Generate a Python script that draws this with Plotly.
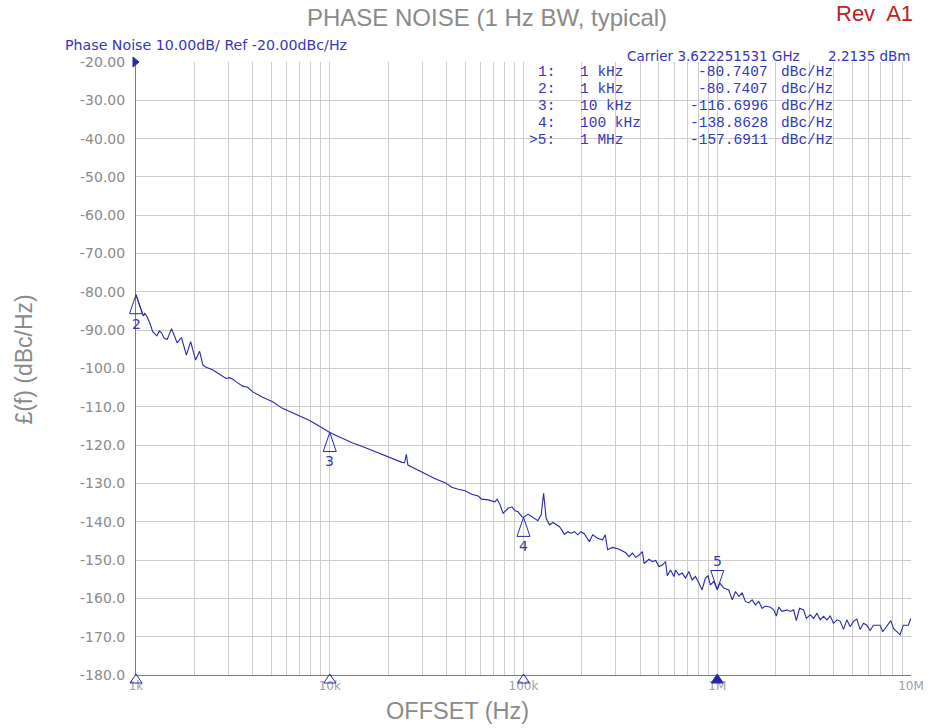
import math
import plotly.graph_objects as go

# ---------------- data ----------------
freq_hz = [
    1000, 1070, 1090, 1110, 1140, 1180, 1220, 1280, 1320, 1355, 1400, 1450, 1525, 1585, 1630,
    1715, 1820, 1915, 1970, 2030, 2130, 2215, 2305, 2495, 2700, 2920, 3040, 3160, 3290, 3555,
    3775, 4000, 4505, 5070, 5705, 6690, 7825, 8805,
    10000, 11160, 13060, 15300, 17900, 20960, 23580, 24340, 24840, 25320, 27630, 31100, 34990,
    39390, 42590, 46090, 49900, 53950, 58400, 60720, 65720, 71140, 73100, 75470, 78470, 83240,
    87300, 90120, 93710, 98240,
    100000, 105500, 111900, 118700, 123400, 127000, 130900, 136300, 141800, 153500, 162800,
    169300, 176000, 183300, 190500, 198100, 206200, 218800, 227500, 241300, 256000, 264300,
    271600, 288200, 311900, 337200, 351000, 365000, 379500, 395200, 410900, 419300, 444600,
    462400, 480800, 500500, 520400, 541100, 552100, 574100, 597700, 609100, 634100, 659300,
    685500, 713500, 742000, 771500, 803200, 835100, 868400, 896500, 921100, 959100,
    1000000, 1031000, 1081000, 1147000, 1195000, 1242000, 1292000, 1345000, 1398000, 1454000,
    1514000, 1574000, 1637000, 1704000, 1772000, 1881000, 1956000, 2019000, 2075000, 2160000,
    2293000, 2384000, 2479000, 2559000, 2661000, 2791000, 2882000, 3021000, 3141000, 3271000,
    3401000, 3536000, 3682000, 3829000, 3982000, 4146000, 4311000, 4483000, 4667000, 4853000,
    5047000, 5253000, 5463000, 5681000, 5916000, 6152000, 6397000, 6927000, 7151000, 7497000,
    7861000, 8108000, 8441000, 8778000, 9129000, 9685000, 10000000,
]
noise_dbc = [
    -80.74, -85.6, -86.3, -85.6, -86.5, -88.2, -90.4, -91.5, -90.2, -90.7, -92.2, -92.4, -89.6, -91.7, -93.3,
    -91.9, -96.5, -93.0, -95.6, -97.8, -95.5, -99.1, -99.7, -100.4, -101.5, -102.6, -102.4, -102.8, -103.5, -104.6,
    -104.9, -106.1, -107.5, -108.7, -110.4, -111.9, -113.5, -115.0,
    -116.7, -117.8, -119.4, -120.7, -122.1, -123.4, -124.5, -124.6, -122.4, -125.2, -126.2, -127.5, -128.8,
    -129.8, -131.0, -131.5, -131.9, -132.8, -133.3, -134.1, -134.3, -134.8, -134.1, -135.4, -137.8, -136.5,
    -136.1, -137.1, -137.4, -138.7,
    -138.86, -138.0, -138.8, -139.7, -138.2, -132.6, -139.1, -140.8, -140.2, -141.3, -143.3,
    -142.6, -143.0, -142.6, -143.4, -142.6, -143.2, -145.2, -143.4, -144.3, -144.7, -143.4,
    -147.3, -146.7, -147.2, -148.1, -149.1, -148.2, -149.3, -148.7, -147.8, -150.9, -149.8,
    -150.4, -150.1, -151.7, -151.3, -150.4, -154.1, -152.6, -154.3, -152.6, -153.9, -153.4,
    -154.7, -153.0, -155.2, -154.3, -155.9, -157.8, -154.7, -154.1, -156.5, -155.6,
    -157.69, -156.0, -157.3, -157.8, -160.4, -158.2, -159.5, -158.6, -160.8, -161.2,
    -160.4, -161.7, -160.8, -162.6, -162.0, -162.3, -163.0, -164.6, -162.3, -163.4,
    -163.0, -163.4, -163.0, -165.8, -162.6, -163.0, -165.2, -164.3, -165.2, -163.9,
    -165.6, -164.7, -165.6, -164.6, -166.5, -165.6, -166.0, -168.1, -165.6, -167.4,
    -166.0, -165.4, -168.1, -166.5, -167.0, -168.4, -167.0, -167.0, -168.7, -167.4,
    -165.8, -167.8, -168.7, -169.5, -167.0, -167.0, -165.2,
]

marker_ids = ["1:", "2:", "3:", "4:", ">5:"]
marker_freq_hz = [1e3, 1e3, 1e4, 1e5, 1e6]
marker_freq_text = ["1 kHz", "1 kHz", "10 kHz", "100 kHz", "1 MHz"]
marker_dbc = [-80.7407, -80.7407, -116.6996, -138.8628, -157.6911]
active_marker = 4

x_tick_vals = [1e3, 1e4, 1e5, 1e6, 1e7]
x_tick_text = ["1k", "10k", "100k", "1M", "10M"]
y_tick_vals = [-20, -30, -40, -50, -60, -70, -80, -90, -100, -110, -120, -130, -140, -150, -160, -170, -180]
y_tick_text = ["-20.00", "-30.00", "-40.00", "-50.00", "-60.00", "-70.00", "-80.00", "-90.00",
               "-100.0", "-110.0", "-120.0", "-130.0", "-140.0", "-150.0", "-160.0", "-170.0", "-180.0"]

title_text = "PHASE NOISE (1 Hz BW, typical)"
rev_text = "Rev  A1"
header_text = "Phase Noise 10.00dB/ Ref -20.00dBc/Hz"
carrier_text = "Carrier 3.622251531 GHz"
power_text = "2.2135 dBm"
x_title = "OFFSET (Hz)"
y_title = "£(f) (dBc/Hz)"

# ---------------- styling / layout ----------------
W, H = 936, 728
ML, MR, MT, MB = 136, 21, 62, 53
X_RANGE = [3, 7]
Y_RANGE = [-180, -20]
BLUE = "#2828ad"
TXT_BLUE = "#3636b8"
GRAY = "#8a8a8a"
GRID = "#cccccc"
AXIS = "#7a7a7a"


def px_x(px):
    return (px - ML) / (W - ML - MR)


def px_y(py):
    return (H - MB - py) / (H - MT - MB)


def xfrac(f):
    return (math.log10(f) - X_RANGE[0]) / (X_RANGE[1] - X_RANGE[0])


fig = go.Figure()
fig.add_trace(go.Scatter(
    x=freq_hz, y=noise_dbc, mode="lines",
    line=dict(color=BLUE, width=1.1), hoverinfo="skip", showlegend=False,
))

minor_vals = [m * 10 ** k for k in range(3, 7) for m in range(2, 10)]

shapes = []
annotations = []

# markers on the trace
label_at = {}
for i, f in enumerate(marker_freq_hz):
    label_at[f] = (marker_ids[i].strip(">:"), marker_dbc[i], i == active_marker)
for f, (num, db, active) in label_at.items():
    if active:
        path = "M0,0 L-6.5,19 L6.5,19 Z"
        shift = 29
    else:
        path = "M0,0 L-6.5,-19 L6.5,-19 Z"
        shift = -29
    shapes.append(dict(type="path", xref="paper", yref="y", xsizemode="pixel", ysizemode="pixel",
                       xanchor=xfrac(f), yanchor=db, path=path,
                       line=dict(color=BLUE, width=1), fillcolor="rgba(0,0,0,0)"))
    annotations.append(dict(x=math.log10(f), y=db, xref="x", yref="y", yshift=shift, text=num,
                            showarrow=False, font=dict(family="DejaVu Sans", size=14, color=TXT_BLUE)))
    # marker indicator on the x axis
    shapes.append(dict(type="path", xref="paper", yref="paper", xsizemode="pixel", ysizemode="pixel",
                       xanchor=xfrac(f), yanchor=0, path="M0,1 L-6,-8 L6,-8 Z",
                       line=dict(color=BLUE, width=1),
                       fillcolor=BLUE if active else "rgba(0,0,0,0)"))

# reference level indicator
shapes.append(dict(type="path", xref="paper", yref="paper", xsizemode="pixel", ysizemode="pixel",
                   xanchor=0, yanchor=1, path="M-3,5 L3,0 L-3,-5 Z",
                   line=dict(color=BLUE, width=1), fillcolor=BLUE))

# marker table
mono = dict(family="Liberation Mono", size=14.5, color=TXT_BLUE)
for i in range(len(marker_ids)):
    yy = px_y(72 + 16.9 * i)
    annotations.append(dict(x=px_x(558), y=yy, xref="paper", yref="paper", xanchor="right", yanchor="middle",
                            text=marker_ids[i], showarrow=False, font=mono, borderpad=0))
    annotations.append(dict(x=px_x(581), y=yy, xref="paper", yref="paper", xanchor="left", yanchor="middle",
                            text=marker_freq_text[i], showarrow=False, font=mono, borderpad=0))
    annotations.append(dict(x=px_x(772), y=yy, xref="paper", yref="paper", xanchor="right", yanchor="middle",
                            text=f"{marker_dbc[i]:.4f}", showarrow=False, font=mono, borderpad=0))
    annotations.append(dict(x=px_x(783), y=yy, xref="paper", yref="paper", xanchor="left", yanchor="middle",
                            text="dBc/Hz", showarrow=False, font=mono, borderpad=0))

sans = "Liberation Sans"
annotations += [
    dict(x=px_x(489), y=px_y(18), xref="paper", yref="paper", xanchor="center", yanchor="middle",
         text=title_text, showarrow=False, font=dict(family=sans, size=24, color=GRAY)),
    dict(x=px_x(918), y=px_y(0), xref="paper", yref="paper", xanchor="right", yanchor="top",
         text=rev_text, showarrow=False, font=dict(family=sans, size=22, color="#bb2222"), borderpad=0),
    dict(x=px_x(64), y=px_y(45), xref="paper", yref="paper", xanchor="left", yanchor="middle",
         text=header_text, showarrow=False, font=dict(family="DejaVu Sans", size=14.2, color=TXT_BLUE), borderpad=0),
    dict(x=px_x(629), y=px_y(56), xref="paper", yref="paper", xanchor="left", yanchor="middle",
         text=carrier_text, showarrow=False, font=dict(family="DejaVu Sans", size=13.5, color=TXT_BLUE), borderpad=0),
    dict(x=px_x(916), y=px_y(56), xref="paper", yref="paper", xanchor="right", yanchor="middle",
         text=power_text, showarrow=False, font=dict(family="DejaVu Sans", size=13.5, color=TXT_BLUE), borderpad=0),
    dict(x=px_x(459), y=px_y(711), xref="paper", yref="paper", xanchor="center", yanchor="middle",
         text=x_title, showarrow=False, font=dict(family=sans, size=23.5, color=GRAY), borderpad=0),
    dict(x=px_x(23), y=px_y(360), xref="paper", yref="paper", xanchor="center", yanchor="middle",
         text=y_title, textangle=-90, showarrow=False, font=dict(family=sans, size=23, color=GRAY)),
]

fig.update_layout(
    width=W, height=H,
    margin=dict(l=ML, r=MR, t=MT, b=MB, pad=0),
    paper_bgcolor="white", plot_bgcolor="white",
    showlegend=False,
    shapes=shapes, annotations=annotations,
    xaxis=dict(
        type="log", range=X_RANGE, tickvals=x_tick_vals, ticktext=x_tick_text,
        showgrid=True, gridcolor=GRID, gridwidth=1, zeroline=False,
        showline=True, linecolor=AXIS, linewidth=1, ticks="",
        tickfont=dict(family="DejaVu Sans", size=12, color="#a0a0a0"),
        minor=dict(tickvals=minor_vals, showgrid=True, gridcolor=GRID, gridwidth=1, ticks=""),
    ),
    yaxis=dict(
        range=Y_RANGE, tickvals=y_tick_vals, ticktext=y_tick_text,
        showgrid=True, gridcolor=GRID, gridwidth=1, zeroline=False,
        showline=True, linecolor=AXIS, linewidth=1, ticks="", ticklabelstandoff=7,
        tickfont=dict(family="DejaVu Sans", size=14, color=GRAY),
    ),
)

# the page's default 8px body margin would shift the figure; remove it
fig.write_html("out.html", config={"displayModeBar": False},
               post_script="document.body.style.margin='0';")
